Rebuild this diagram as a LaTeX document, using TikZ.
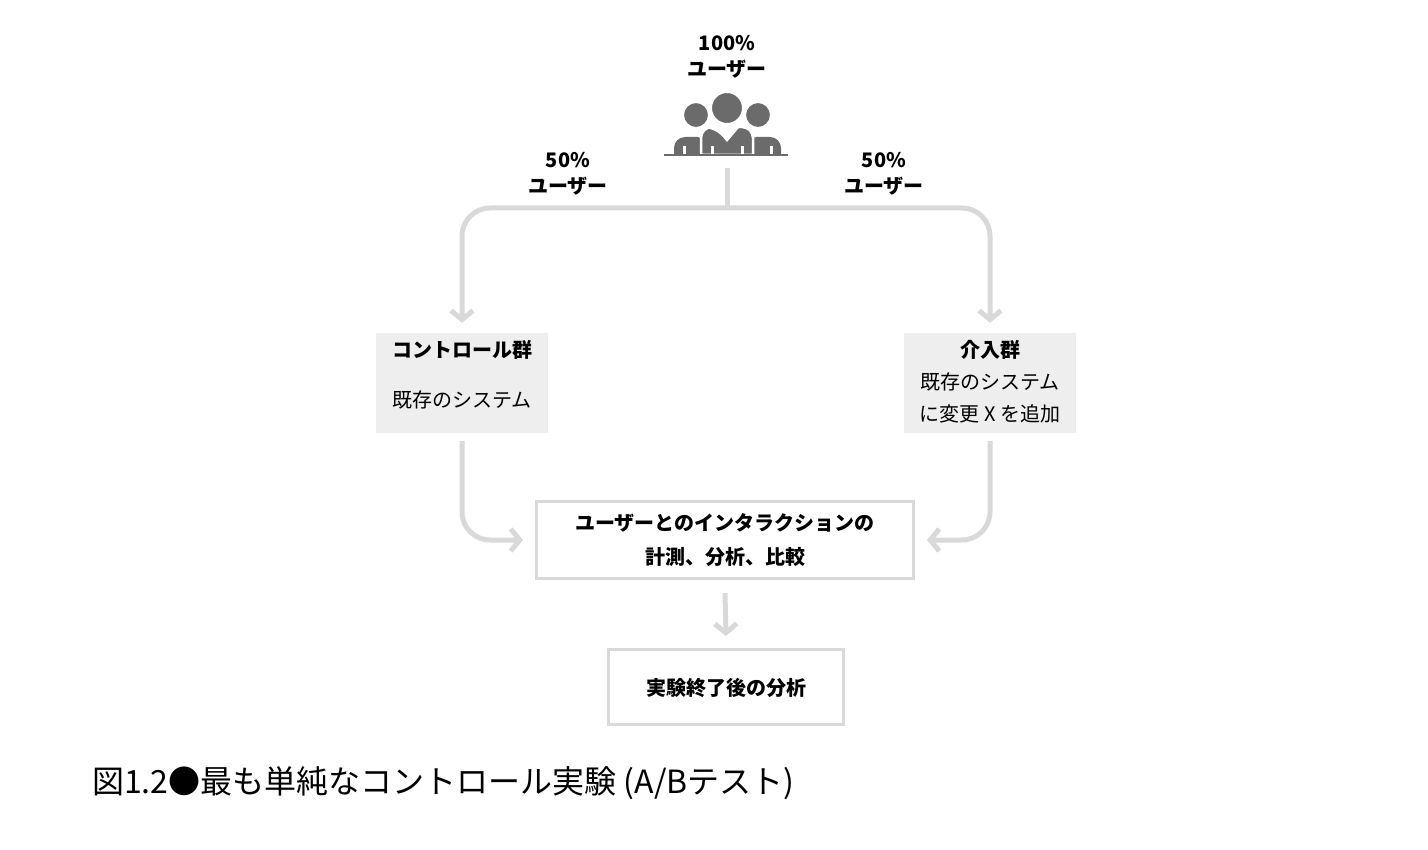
\documentclass[tikz,border=0pt]{standalone}
\usepackage{fontspec}
\setmainfont{Noto Sans CJK JP}
\usetikzlibrary{arrows.meta}
\definecolor{lineg}{HTML}{D9D9D9}
\definecolor{boxg}{HTML}{EEEEEE}
\definecolor{iconc}{HTML}{6B6B6B}
\tikzset{
  lbl/.style={font=\fontsize{20}{24}\selectfont\bfseries, align=center, inner sep=0},
  txt/.style={font=\fontsize{20}{32}\selectfont, align=center, inner sep=0},
  conn/.style={lineg, line width=5pt, rounded corners=28pt, -{Straight Barb[length=9pt,width=22pt]}},
  plain/.style={lineg, line width=5pt, rounded corners=28pt},
  grp/.style={fill=boxg, minimum width=172pt, minimum height=100pt},
  res/.style={draw=lineg, line width=3pt}
}
\begin{document}
\begin{tikzpicture}[x=1pt,y=-1pt]
  \useasboundingbox (0,0) rectangle (1428,850);

  % heading
  \node[lbl] (all) at (727,57) {100\%\\[2pt]ユーザー};

  % users icon
  \fill[iconc] (674,155) [rounded corners=11pt]-- (674,137) -- (708,137) [sharp corners]-- (708,155) -- cycle;
  \fill[iconc] (781,155) [rounded corners=11pt]-- (781,137) -- (746,137) [sharp corners]-- (746,155) -- cycle;
  \fill[iconc,draw=white,line width=2.5pt] (701,155) [rounded corners=11pt]-- (701,127) -- (716,127) [sharp corners]-- (727,140) -- (738,127) [rounded corners=11pt]-- (753,127) [sharp corners]-- (753,155) -- cycle;
  \fill[iconc,draw=white,line width=2pt] (696,115) circle (13);
  \fill[iconc,draw=white,line width=2pt] (758,115) circle (13);
  \fill[iconc,draw=white,line width=2pt] (727,108) circle (16);
  \foreach \lx in {683,711,741,770} \fill[white] (\lx,146) rectangle (\lx+2.5,156);
  \draw[iconc,line width=1.5pt] (664,155) -- (788,155);
  \coordinate (split) at (727,168);
  \coordinate (fork) at (727,208);

  % share labels
  \node[lbl] (half l) at (568,174) {50\%\\[2pt]ユーザー};
  \node[lbl] (half r) at (884,174) {50\%\\[2pt]ユーザー};

  % groups
  \node[grp] (ctrl) at (462,383) {};
  \node[lbl] at (462,350) {コントロール群};
  \node[txt] at (462,400) {既存のシステム};
  \node[grp] (treat) at (990,383) {};
  \node[lbl] at (990,350) {介入群};
  \node[txt] at (990,398) {既存のシステム\\に変更 X を追加};

  \node[res, minimum width=377pt, minimum height=77pt] (meas) at (725,540) {};
  \node[lbl] at (725,540) {ユーザーとのインタラクションの\\[10pt]計測、分析、比較};
  \node[res, minimum width=235pt, minimum height=75pt] (post) at (726,687) {};
  \node[lbl] at (726,688) {実験終了後の分析};

  % connectors
  \draw[plain] (split) -- (fork);
  \draw[conn] (fork) -| ([yshift=10pt]ctrl.north);
  \draw[conn] (fork) -| ([yshift=10pt]treat.north);
  \draw[conn] ([yshift=-8pt]ctrl.south) |- ([xshift=-12pt]meas.west);
  \draw[conn] ([yshift=-8pt]treat.south) |- ([xshift=12pt]meas.east);
  \draw[conn] ([yshift=-13pt]meas.south) -- ([yshift=12pt]post.north);

  % caption
  \node[anchor=west, inner sep=0, font=\fontsize{32}{36}\selectfont] (cap) at (92,783) {図1.2●最も単純なコントロール実験 (A/Bテスト)};
\end{tikzpicture}
\end{document}
